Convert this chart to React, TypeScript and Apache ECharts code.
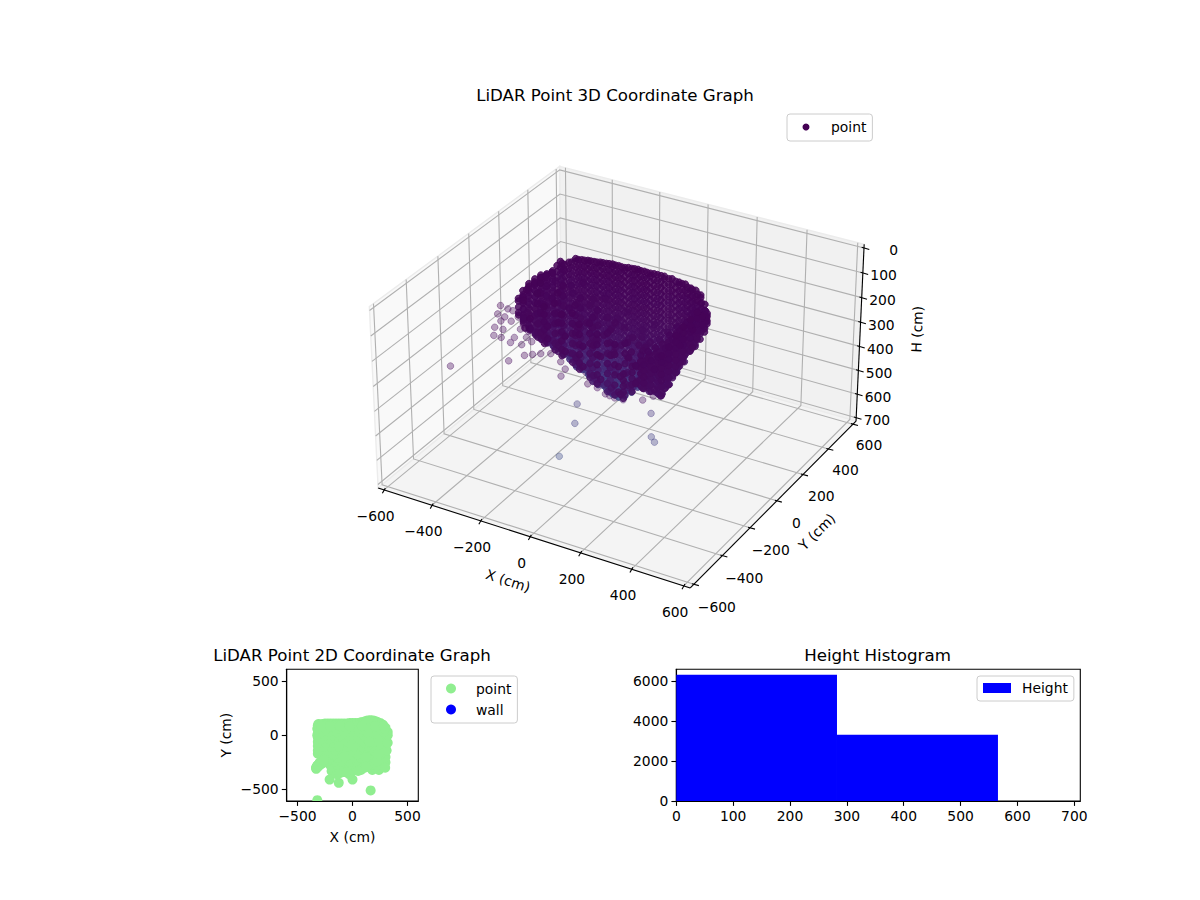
import { useEffect, useRef } from 'react';
import * as echarts from 'echarts';

const xTicks = [-600, -400, -200, 0, 200, 400, 600];
const yTicks = [-600, -400, -200, 0, 200, 400, 600];
const hTicks = [0, 100, 200, 300, 400, 500, 600, 700];
const planTicks = [-500, 0, 500];
const histXTicks = [0, 100, 200, 300, 400, 500, 600, 700];
const histYTicks = [0, 2000, 4000, 6000];

const histStart = [0, 282.6];
const histEnd = [282.6, 565.7];
const histCount = [6333, 3325];

// lone points, x / y / H in cm
const strayPoints = [
  [-320, -600, 143], [-208, -410, 185], [-125, -440, 125], [0, -410, 129], [165, -510, 117],
  [-319, -280, 61], [-325, -290, 91], [-319, -280, 122], [-330, -310, 168], [-313, -290, 181],
  [-288, -270, 204], [-255, -250, 213], [-220, -240, 196], [-302, -260, 79], [-296, -250, 131],
  [-265, -240, 159], [-239, -230, 165], [-309, -270, 108], [-273, -240, 113], [-332, -300, 141],
  [-308, -285, 150], [-278, -260, 186], [-238, -245, 182], [-285, -255, 84], [-259, -230, 142],
  [-143, -360, 166], [-116, -350, 160], [-82, -340, 155], [-19, -350, 193], [-30, -360, 219],
  [77, -320, 225], [110, -300, 279], [135, -280, 298], [122, -200, 350], [222, -240, 301],
  [297, -300, 233], [-123, -100, 491], [154, -60, 468], [-73, -200, 504], [-53, -340, 559],
  [206, -150, 501], [230, -170, 505], [84, -310, 257], [121, -290, 288], [51, -330, 195],
];

// scan columns: x, y, then the heights seen there
const backColumns: [number, number, number[]][] = [
  [-300, 100, [66, 77, 101, 125, 149, 173, 197, 221, 245, 269, 293, 317, 341, 365, 389, 413, 437]],
  [-275, 105, [57, 81, 105, 129, 153, 177, 201, 225, 249, 273, 297, 321, 345, 369, 393, 417, 441, 453]],
  [-250, 110, [38, 48, 72, 96, 120, 144, 168, 192, 216, 240, 264, 288, 312, 336, 360, 384, 408, 432, 456, 480]],
  [-225, 110, [36, 60, 84, 108, 132, 156, 180, 204, 228, 252, 276, 300, 324, 348, 372, 396, 420, 444, 468, 484]],
  [-200, 110, [32, 42, 66, 90, 114, 138, 162, 186, 210, 234, 258, 282, 306, 330, 354, 378, 402, 426, 450, 474, 498]],
  [-175, 110, [30, 54, 78, 102, 126, 150, 174, 198, 222, 246, 270, 294, 318, 342, 366, 390, 414, 438, 462, 486, 510]],
  [-150, 110, [26, 36, 60, 84, 108, 132, 156, 180, 204, 228, 252, 276, 300, 324, 348, 372, 396, 420, 444, 468, 492, 520]],
  [-125, 110, [24, 48, 72, 96, 120, 144, 168, 192, 216, 240, 264, 288, 312, 336, 360, 384, 408, 432, 456, 480, 504, 536]],
  [-100, 110, [20, 30, 54, 78, 102, 126, 150, 174, 198, 222, 246, 270, 294, 318, 342, 366, 390, 414, 438, 462, 486, 510, 534, 550]],
  [-75, 110, [20, 44, 68, 92, 116, 140, 164, 188, 212, 236, 260, 284, 308, 332, 356, 380, 404, 428, 452, 476, 500, 524, 556]],
  [-50, 110, [21, 31, 55, 79, 103, 127, 151, 175, 199, 223, 247, 271, 295, 319, 343, 367, 391, 415, 439, 463, 487, 511, 544]],
  [-25, 115, [20, 44, 68, 92, 116, 140, 164, 188, 212, 236, 260, 284, 308, 332, 356, 380, 404, 428, 452, 476, 500, 523]],
  [0, 115, [17, 27, 51, 75, 99, 123, 147, 171, 195, 219, 243, 267, 291, 315, 339, 363, 387, 411, 435, 459, 483, 495]],
  [25, 115, [18, 42, 66, 90, 114, 138, 162, 186, 210, 234, 258, 282, 306, 330, 354, 378, 402, 426, 450, 474, 486]],
  [50, 115, [19, 29, 53, 77, 101, 125, 149, 173, 197, 221, 245, 269, 293, 317, 341, 365, 389, 413, 437, 461, 475]],
  [75, 120, [20, 44, 68, 92, 116, 140, 164, 188, 212, 236, 260, 284, 308, 332, 356, 380, 404, 428, 445]],
  [100, 125, [22, 32, 56, 80, 104, 128, 152, 176, 200, 224, 248, 272, 296, 320, 344, 368, 392, 420]],
  [125, 135, [30, 54, 78, 102, 126, 150, 174, 198, 222, 246, 270, 294, 318, 342, 366, 390, 402]],
  [150, 140, [39, 49, 73, 97, 121, 145, 169, 193, 217, 241, 265, 289, 313, 337, 361, 383]],
  [175, 140, [40, 64, 88, 112, 136, 160, 184, 208, 232, 256, 280, 304, 328, 352]],
  [200, 135, [47, 57, 81, 105, 129, 153, 177, 201, 225, 249, 273, 297]],
  [225, 125, [44, 68, 92, 116, 140, 164, 188, 212, 236, 260, 268]],
  [250, 115, [51, 61, 85, 109, 133, 157, 181, 205, 227]],
  [275, 100, [74, 98, 122, 146, 170, 184]],
  [300, 70, [88, 98, 120, 130]],
  [320, 30, [80, 90]],
];

const innerBackColumns: [number, number, number[]][] = [
  [-280, 85, [58, 82, 105, 130, 154, 178, 201, 226, 250, 273, 298, 322, 345, 370, 394, 418]],
  [-255, 90, [44, 67, 92, 116, 139, 164, 188, 211, 236, 260, 283, 308, 332, 356, 379, 404, 428, 440]],
  [-230, 95, [30, 54, 79, 102, 127, 151, 174, 199, 223, 246, 271, 295, 318, 343, 367, 390, 415, 439, 462]],
  [-205, 95, [26, 50, 73, 98, 122, 145, 170, 194, 217, 242, 266, 289, 314, 338, 361, 386, 410, 433, 458, 472]],
  [-180, 95, [22, 47, 70, 95, 119, 142, 167, 191, 214, 239, 263, 286, 311, 335, 358, 383, 407, 430, 455, 479, 490]],
  [-155, 95, [20, 43, 68, 92, 115, 140, 164, 187, 212, 236, 259, 284, 308, 331, 356, 380, 403, 428, 452, 475, 500]],
  [-130, 95, [16, 40, 64, 88, 111, 136, 160, 183, 208, 232, 255, 280, 304, 327, 352, 376, 399, 424, 448, 471, 496, 515]],
  [-105, 95, [13, 38, 61, 85, 109, 132, 157, 181, 204, 229, 253, 276, 301, 325, 348, 373, 397, 420, 445, 469, 492, 517, 533]],
  [-80, 95, [12, 36, 59, 84, 108, 131, 156, 180, 203, 228, 252, 275, 300, 324, 347, 372, 396, 419, 444, 468, 491, 516, 540]],
  [-55, 95, [12, 35, 60, 83, 107, 132, 155, 179, 204, 227, 251, 276, 299, 323, 348, 371, 395, 420, 443, 467, 492, 515, 530]],
  [-30, 100, [11, 35, 58, 83, 106, 130, 155, 178, 202, 227, 250, 274, 299, 322, 346, 371, 394, 418, 443, 466, 490, 508]],
  [-5, 100, [9, 33, 57, 80, 105, 129, 152, 177, 201, 224, 249, 273, 296, 321, 345, 368, 393, 417, 440, 465, 484]],
  [20, 100, [10, 34, 57, 82, 106, 129, 154, 178, 201, 226, 250, 273, 298, 322, 345, 370, 394, 417, 442, 466, 476]],
  [45, 100, [10, 33, 58, 81, 105, 130, 153, 177, 202, 225, 249, 274, 297, 321, 346, 369, 393, 418, 441, 458]],
  [70, 105, [11, 35, 58, 83, 107, 130, 155, 179, 202, 227, 251, 274, 299, 323, 346, 371, 395, 418, 432]],
  [95, 110, [14, 38, 61, 86, 110, 133, 158, 182, 205, 230, 254, 277, 302, 326, 349, 374, 398, 412]],
  [120, 120, [24, 47, 72, 96, 119, 144, 168, 191, 216, 240, 263, 288, 312, 335, 360, 384, 396]],
  [145, 125, [30, 54, 77, 102, 126, 149, 174, 198, 221, 246, 270, 293, 318, 342, 365, 378]],
  [170, 125, [32, 56, 79, 104, 128, 151, 176, 200, 223, 248, 272, 295, 320, 340]],
  [195, 120, [38, 62, 85, 110, 134, 157, 182, 206, 229, 254, 278, 290]],
  [220, 110, [36, 60, 83, 108, 132, 155, 180, 204, 227, 252, 262]],
  [245, 100, [42, 66, 89, 114, 138, 161, 186, 210, 222]],
  [270, 85, [62, 86, 109, 134, 158, 176]],
];

const leftColumns: [number, number, number[]][] = [
  [-310, 105, [63, 87, 111, 135, 159, 183, 207, 231, 255, 279, 303, 327, 351, 375, 399, 420]],
  [-315, 90, [74, 98, 122, 146, 170, 194, 218, 242, 266, 290, 314, 338, 362, 386, 410]],
  [-315, 60, [81, 91, 115, 139, 163, 187, 211, 235, 259, 283, 307, 331, 355, 379, 390]],
  [-315, 20, [75, 99, 123, 147, 171, 195, 219, 243, 267, 291, 315, 339, 355]],
  [-315, -20, [61, 71, 95, 119, 143, 167, 191, 215, 239, 263, 287, 311, 320]],
  [-315, -60, [58, 82, 106, 130, 154, 178, 202, 226, 250, 274, 284]],
  [-315, -100, [58, 68, 92, 116, 140, 164, 188, 212, 236, 244]],
  [-315, -140, [67, 91, 115, 139, 163, 187, 195]],
  [-315, -170, [84, 94, 118, 140, 150]],
  [-305, 40, [78, 88, 112, 135, 160, 184, 207, 232, 256, 279, 304, 328, 351, 372]],
  [-305, 0, [68, 78, 101, 126, 150, 173, 198, 222, 245, 270, 294, 317, 335]],
  [-305, -40, [60, 70, 93, 118, 142, 165, 190, 214, 237, 262, 286, 300]],
  [-305, -80, [58, 68, 91, 116, 140, 163, 188, 212, 235, 260, 265]],
  [-305, -120, [62, 72, 95, 120, 144, 167, 192, 215, 222]],
  [-305, -155, [74, 84, 107, 132, 156, 172]],
];

const rightColumns: [number, number, number[]][] = [
  [300, -250, [100, 124, 148, 172, 196, 220, 244, 256]],
  [300, -200, [90, 114, 138, 162, 186, 210, 238]],
  [300, -150, [70, 94, 118, 142, 166, 190, 216]],
  [300, -100, [60, 84, 108, 132, 156, 180, 196]],
  [300, -50, [55, 79, 103, 127, 151, 180]],
  [300, 0, [50, 74, 98, 122, 156]],
  [300, 50, [85, 110, 132]],
  [260, -300, [120, 144, 168, 192, 214]],
  [260, -250, [130, 154, 178, 202, 226, 250]],
  [260, -200, [140, 164, 188, 212, 236, 260, 284]],
  [260, -150, [130, 154, 178, 202, 226, 250, 274, 288]],
  [260, -100, [120, 144, 168, 192, 216, 240, 264, 272]],
  [260, -50, [110, 134, 158, 182, 206, 230, 250]],
  [260, 0, [100, 124, 148, 172, 196, 222]],
  [260, 50, [90, 114, 138, 162, 186, 212]],
  [220, -250, [120, 144, 168, 192, 216, 238]],
  [220, -200, [130, 154, 178, 202, 226, 250, 274]],
  [220, -150, [140, 164, 188, 212, 236, 260, 284, 314]],
  [220, -100, [150, 174, 198, 222, 246, 270, 294, 318, 348]],
  [220, -50, [140, 164, 188, 212, 236, 260, 284, 308, 336]],
  [220, 0, [130, 154, 178, 202, 226, 250, 274, 298, 310]],
  [180, -300, [180, 204, 228, 252, 276]],
  [180, -240, [180, 204, 228, 252, 280]],
  [180, -180, [190, 214, 238, 262, 286]],
  [180, -120, [200, 224, 248, 272, 296, 320, 340]],
  [180, -60, [210, 234, 258, 282, 306, 330, 354, 378]],
];

const floorColumns: [number, number, number[]][] = [
  [-190, -330, [90]], [180, -320, [180, 250]], [240, -320, [120, 190]],
  [-200, -280, [80, 120]], [-130, -280, [90, 140]], [-60, -280, [110, 170]], [10, -280, [130, 210]],
  [80, -280, [150, 240]], [150, -280, [170, 270]], [220, -280, [150, 210]], [290, -280, [140, 220]],
  [-165, -245, [40, 70, 100, 130, 160, 185]], [-95, -245, [50, 85, 120, 155, 190, 214]],
  [-25, -245, [70, 110, 150, 190, 225, 248]], [45, -245, [90, 130, 170, 210, 250, 285]],
  [115, -245, [110, 150, 190, 230, 270, 310]],
  [-270, -210, [60, 130]], [-200, -210, [90, 170]], [-130, -210, [110, 200]], [-60, -210, [130, 230]],
  [10, -210, [160, 280]], [80, -210, [180, 310]], [150, -210, [170, 280]], [220, -210, [160, 260]], [290, -210, [150, 250]],
  [-235, -175, [40, 80, 120, 160, 195, 214]], [-165, -175, [60, 100, 140, 180, 220, 245]],
  [-95, -175, [80, 120, 160, 200, 240, 275]], [-25, -175, [100, 140, 180, 220, 260, 300, 316]],
  [45, -175, [120, 160, 200, 240, 280, 320, 352]], [115, -175, [140, 180, 220, 260, 300, 345]],
  [185, -175, [150, 190, 230, 270, 298]], [255, -175, [150, 190, 230, 270, 308]],
  [-300, -140, [60, 150]], [-230, -140, [100, 220]], [-160, -140, [120, 260]], [-90, -140, [150, 290]],
  [-20, -140, [180, 340]], [50, -140, [210, 370]], [120, -140, [190, 320]], [190, -140, [180, 300]],
  [260, -140, [160, 280]], [310, -140, [110, 180]],
  [-265, -105, [40, 80, 120, 160, 200, 240, 265]], [-195, -105, [60, 100, 140, 180, 220, 260, 295]],
  [-125, -105, [90, 130, 170, 210, 250, 290, 328]], [-55, -105, [120, 160, 200, 240, 280, 320, 376]],
  [15, -105, [150, 200, 250, 300, 350, 398]], [85, -105, [180, 240, 300, 360]], [155, -105, [180, 240, 300]],
  [-310, -70, [70, 200]], [-240, -70, [110, 280]], [-170, -70, [130, 310]], [-100, -70, [170, 350]],
  [-30, -70, [200, 400]], [40, -70, [220, 420]], [110, -70, [200, 340]], [180, -70, [210, 340]],
  [250, -70, [170, 260]], [320, -70, [80, 150]],
  [-285, -35, [50, 90, 130, 170, 210, 250, 290, 318]], [-215, -35, [70, 110, 150, 190, 230, 270, 310, 348]],
  [-145, -35, [100, 140, 180, 220, 260, 300, 340, 380]], [-75, -35, [130, 190, 250, 310, 370, 430]],
  [-5, -35, [160, 260, 360, 440]], [65, -35, [200, 300, 400]], [135, -35, [200, 300, 370]], [205, -35, [180, 260, 330]],
  [-320, 0, [80, 240]], [-250, 0, [120, 320]], [-180, 0, [150, 370]], [-110, 0, [180, 430]],
  [-40, 0, [210, 450]], [30, 0, [230, 430]], [100, 0, [240, 390]], [170, 0, [230, 380]],
  [240, 0, [170, 250]], [320, 0, [60, 95]],
  [-285, 30, [100, 250]], [-215, 30, [130, 320]], [-145, 30, [160, 390]], [-75, 30, [190, 460]],
  [-5, 30, [210, 470]], [65, 30, [230, 430]], [135, 30, [220, 400]], [205, 30, [190, 330]], [285, 30, [80, 150]],
  [-320, 60, [90, 300]], [-240, 60, [120, 400]], [-150, 60, [150, 470]], [-50, 60, [200, 500]],
  [50, 60, [220, 430]], [150, 60, [200, 390]], [250, 60, [120, 220]], [295, 60, [90, 125]],
  [-285, 85, [80, 200]], [-205, 85, [110, 340]], [-115, 85, [150, 430]], [-25, 85, [180, 470]],
  [85, 85, [200, 410]], [205, 85, [170, 290]], [285, 85, [90, 130]],
];

const heightColors = ['#440154', '#450559', '#46085c', '#470e61', '#481d6f', '#43347e', '#3c4d8a'];
const HEIGHT_MAX = 566;

const FONT = '"DejaVu Sans"';
const TICK_SIZE = 13.89;
const TITLE_SIZE = 16.67;

// matplotlib style view at elev 30, azim -60 with the H axis turned upside down
const BOX_XY = 625;
const H_LOW = -14.6;
const H_HIGH = 714.6;
const project = (x: number, y: number, h: number) => {
  const qx = (x / BOX_XY) * 0.595;
  const qy = (y / BOX_XY) * 0.595;
  const qz = ((350 - h) / 364.6) * 0.348;
  const u = 0.866 * qx + 0.5 * qy;
  const v = -0.25 * qx + 0.433 * qy + 0.866 * qz;
  const w = 0.433 * qx - 0.75 * qy + 0.5 * qz;
  const f = 10 / (10 - w);
  return [621.5 + 299 * u * f, 366 - 297 * v * f];
};

type P3 = [number, number, number];
const L = -BOX_XY;
const R = BOX_XY;

const panes: { fill: string; corners: P3[] }[] = [
  { fill: '#f9f9f9', corners: [[L, L, H_HIGH], [L, R, H_HIGH], [L, R, H_LOW], [L, L, H_LOW]] },
  { fill: '#f1f1f1', corners: [[L, R, H_HIGH], [R, R, H_HIGH], [R, R, H_LOW], [L, R, H_LOW]] },
  { fill: '#f4f4f4', corners: [[L, L, H_HIGH], [R, L, H_HIGH], [R, R, H_HIGH], [L, R, H_HIGH]] },
];

const gridLines: P3[][] = [
  ...xTicks.map((t): P3[] => [[t, L, H_HIGH], [t, R, H_HIGH], [t, R, H_LOW]]),
  ...yTicks.map((t): P3[] => [[R, t, H_HIGH], [L, t, H_HIGH], [L, t, H_LOW]]),
  ...hTicks.map((t): P3[] => [[L, L, t], [L, R, t], [R, R, t]]),
];

const axisLines: P3[][] = [
  [[L, L, H_HIGH], [R, L, H_HIGH]],
  [[R, L, H_HIGH], [R, R, H_HIGH]],
  [[R, R, H_HIGH], [R, R, H_LOW]],
];

type TickMark = { at: P3; from: number[]; to: number[] };
const tickMarks: TickMark[] = [
  ...xTicks.map((t): TickMark => ({ at: [t, L, H_HIGH], from: [1.3, -1.8], to: [-1.7, 3.4] })),
  ...yTicks.map((t): TickMark => ({ at: [R, t, H_HIGH], from: [-2, -0.6], to: [5, 1.3] })),
  ...hTicks.map((t): TickMark => ({ at: [R, R, t], from: [-2.3, -0.7], to: [5.3, 1.6] })),
];

const fmt = (v: number) => String(v).replace('-', '\u2212');

type AxisText = { text: string; at: P3; dx: number; dy: number; align: string; rotate: number };
const axisTexts: AxisText[] = [
  ...xTicks.map((t): AxisText => ({ text: fmt(t), at: [t, L, H_HIGH], dx: -8.5, dy: 26, align: 'center', rotate: 0 })),
  ...yTicks.map((t): AxisText => ({
    text: fmt(t), at: [R, t, H_HIGH], dx: 19.5 - (t / 600) * 3.5, dy: 22 - (t / 600), align: 'center', rotate: 0,
  })),
  ...hTicks.map((t): AxisText => ({ text: fmt(t), at: [R, R, t], dx: 34, dy: 2.5, align: 'right', rotate: 0 })),
  { text: 'X (cm)', at: [0, L, H_HIGH], dx: -22, dy: 44, align: 'center', rotate: -17.8 },
  { text: 'Y (cm)', at: [R, 0, H_HIGH], dx: 40, dy: 31, align: 'center', rotate: 45 },
  { text: 'H (cm)', at: [R, R, 350], dx: 57, dy: -5, align: 'center', rotate: 88 },
];

const allColumns = [...backColumns, ...innerBackColumns, ...leftColumns, ...rightColumns, ...floorColumns];
const bodyPoints = allColumns
  .flatMap(([x, y, hs]) => hs.map((h) => [x, y, h]))
  .sort((a, b) => b[2] - a[2]);
const planPoints = [...allColumns.map(([x, y]) => [x, y]), ...strayPoints.map(([x, y]) => [x, y])];

const flat2 = (pts: P3[], api: any) => pts.map(([x, y, h]) => api.coord(project(x, y, h)));

const heightColor = (h: number, alpha: number) =>
  echarts.color.modifyAlpha(echarts.color.lerp(Math.min(h / HEIGHT_MAX, 1), heightColors) as string, alpha);

const pointRenderer = (alpha: number) => (_: any, api: any) => {
  const h = api.value(2);
  const [cx, cy] = api.coord(project(api.value(0), api.value(1), h));
  const c = heightColor(h, alpha);
  return { type: 'circle', shape: { cx, cy, r: 3.3 }, style: { fill: c, stroke: c, lineWidth: 1 } };
};

const pixelSeries = { coordinateSystem: 'cartesian2d', xAxisIndex: 0, yAxisIndex: 0, silent: true };

const tickAxis = (min: number, max: number, ticks: number[], gridIndex: number, extra: object = {}) => ({
  type: 'value',
  gridIndex,
  min,
  max,
  splitLine: { show: false },
  axisLine: { show: true, onZero: false, lineStyle: { color: '#000', width: 1.1 } },
  axisTick: { show: true, length: 4.9, customValues: ticks, lineStyle: { color: '#000', width: 1.1 } },
  axisLabel: {
    customValues: ticks,
    color: '#000',
    fontFamily: FONT,
    fontSize: TICK_SIZE,
    margin: 8,
    formatter: (v: number) => fmt(v),
  },
  nameTextStyle: { color: '#000', fontFamily: FONT, fontSize: TICK_SIZE },
  ...extra,
});

const legendBase = (gap: number) => ({
  selectedMode: false,
  backgroundColor: '#fff',
  borderColor: '#cccccc',
  borderWidth: 1,
  borderRadius: 3,
  formatter: (name: string) => `{t|${name}}`,
  textStyle: {
    color: '#000',
    fontFamily: FONT,
    fontSize: TICK_SIZE,
    rich: { t: { color: '#000', fontFamily: FONT, fontSize: TICK_SIZE, padding: [0, 0, 0, gap] } },
  },
});

const titleOf = (text: string, left: number, top: number) => ({
  text,
  left,
  top,
  textAlign: 'center',
  textStyle: { color: '#000', fontFamily: FONT, fontSize: TITLE_SIZE, fontWeight: 'normal' },
});

export default function App() {
  const chartRef = useRef<HTMLDivElement>(null);

  useEffect(() => {
    if (!chartRef.current) return;
    const myChart = echarts.init(chartRef.current, null, { renderer: 'svg' });

    const option = {
      animation: false,
      backgroundColor: '#fff',
      title: [
        titleOf('LiDAR Point 3D Coordinate Graph', 610, 82),
        titleOf('LiDAR Point 2D Coordinate Graph', 347, 642),
        titleOf('Height Histogram', 872.5, 642),
      ],
      legend: [
        {
          ...legendBase(16.5),
          left: 787,
          top: 114,
          padding: [6, 6, 7, 15.5],
          itemWidth: 7,
          itemHeight: 7,
          data: [{ name: 'point', icon: 'circle', itemStyle: { color: '#440154', opacity: 1 } }],
        },
        {
          ...legendBase(15),
          left: 431,
          top: 676,
          orient: 'vertical',
          align: 'left',
          padding: [5.5, 6, 6.5, 15],
          itemWidth: 10,
          itemHeight: 10,
          itemGap: 7,
          data: [
            { name: 'point', icon: 'circle', itemStyle: { color: '#90ee90', opacity: 1 } },
            { name: 'wall', icon: 'circle', itemStyle: { color: '#0000ff', opacity: 1 } },
          ],
        },
        {
          ...legendBase(6),
          left: 977,
          top: 676,
          padding: [5, 6, 6, 6],
          itemWidth: 28,
          itemHeight: 10,
          data: [{ name: 'Height', icon: 'rect', itemStyle: { color: '#0000ff', opacity: 1 } }],
        },
      ],
      grid: [
        { left: 0, top: 0, width: 1200, height: 900, show: false },
        { left: 286.7, top: 669.3, width: 131.6, height: 131.7, show: true, borderColor: '#000', borderWidth: 1.1 },
        { left: 676.3, top: 669.3, width: 404, height: 131.7, show: true, borderColor: '#000', borderWidth: 1.1 },
      ],
      xAxis: [
        { type: 'value', gridIndex: 0, min: 0, max: 1200, show: false },
        tickAxis(-598, 598, planTicks, 1, { name: 'X (cm)', nameLocation: 'middle', nameGap: 29 }),
        tickAxis(0, 710.5, histXTicks, 2),
      ],
      yAxis: [
        { type: 'value', gridIndex: 0, min: 0, max: 900, inverse: true, show: false },
        tickAxis(-608, 611, planTicks, 1, { name: 'Y (cm)', nameLocation: 'middle', nameGap: 54 }),
        tickAxis(0, 6601, histYTicks, 2),
      ],
      series: [
        {
          ...pixelSeries,
          type: 'custom',
          name: 'panes',
          z: 1,
          data: panes.map((_, i) => [i]),
          renderItem: (params: any, api: any) => {
            const pane = panes[params.dataIndex];
            return {
              type: 'polygon',
              shape: { points: flat2(pane.corners, api) },
              style: { fill: pane.fill, stroke: '#ececec', lineWidth: 1.4 },
            };
          },
        },
        {
          ...pixelSeries,
          type: 'custom',
          name: 'grid lines',
          z: 2,
          data: gridLines.map((_, i) => [i]),
          renderItem: (params: any, api: any) => ({
            type: 'polyline',
            shape: { points: flat2(gridLines[params.dataIndex], api) },
            style: { fill: 'none', stroke: '#b0b0b0', lineWidth: 1.1 },
          }),
        },
        {
          ...pixelSeries,
          type: 'custom',
          name: 'axis lines',
          z: 3,
          data: axisLines.map((_, i) => [i]),
          renderItem: (params: any, api: any) => ({
            type: 'polyline',
            shape: { points: flat2(axisLines[params.dataIndex], api) },
            style: { fill: 'none', stroke: '#000', lineWidth: 1.1 },
          }),
        },
        {
          ...pixelSeries,
          type: 'custom',
          name: 'axis ticks',
          z: 3,
          data: tickMarks.map((_, i) => [i]),
          renderItem: (params: any, api: any) => {
            const m = tickMarks[params.dataIndex];
            const [px, py] = api.coord(project(...m.at));
            return {
              type: 'line',
              shape: { x1: px + m.from[0], y1: py + m.from[1], x2: px + m.to[0], y2: py + m.to[1] },
              style: { stroke: '#000', lineWidth: 1.1 },
            };
          },
        },
        {
          ...pixelSeries,
          type: 'custom',
          name: 'axis text',
          z: 3,
          data: axisTexts.map((_, i) => [i]),
          renderItem: (params: any, api: any) => {
            const t = axisTexts[params.dataIndex];
            const [px, py] = api.coord(project(...t.at));
            return {
              type: 'text',
              x: px + t.dx,
              y: py + t.dy,
              rotation: (t.rotate * Math.PI) / 180,
              style: {
                text: t.text,
                fill: '#000',
                fontFamily: FONT,
                fontSize: TICK_SIZE,
                align: t.align,
                verticalAlign: 'middle',
              },
            };
          },
        },
        {
          ...pixelSeries,
          type: 'custom',
          name: 'point',
          z: 4,
          data: strayPoints,
          encode: { x: 0, y: 1 },
          renderItem: pointRenderer(0.36),
        },
        {
          ...pixelSeries,
          type: 'custom',
          name: 'point',
          z: 5,
          data: bodyPoints,
          encode: { x: 0, y: 1 },
          renderItem: pointRenderer(0.85),
        },
        {
          type: 'custom',
          name: 'point',
          coordinateSystem: 'cartesian2d',
          xAxisIndex: 1,
          yAxisIndex: 1,
          clip: true,
          silent: true,
          data: planPoints,
          encode: { x: 0, y: 1 },
          renderItem: (_: any, api: any) => {
            const [cx, cy] = api.coord([api.value(0), api.value(1)]);
            return { type: 'circle', shape: { cx, cy, r: 5 }, style: { fill: '#90ee90' } };
          },
        },
        {
          type: 'scatter',
          name: 'wall',
          xAxisIndex: 1,
          yAxisIndex: 1,
          itemStyle: { color: '#0000ff' },
          data: [],
        },
        {
          type: 'custom',
          name: 'Height',
          coordinateSystem: 'cartesian2d',
          xAxisIndex: 2,
          yAxisIndex: 2,
          silent: true,
          data: histCount.map((c, i) => [histStart[i], c, histEnd[i]]),
          encode: { x: 0, y: 1 },
          renderItem: (_: any, api: any) => {
            const [x0, y0] = api.coord([api.value(0), api.value(1)]);
            const [x1, y1] = api.coord([api.value(2), 0]);
            return {
              type: 'rect',
              shape: { x: x0, y: y0, width: x1 - x0, height: y1 - y0 },
              style: { fill: '#0000ff' },
            };
          },
        },
      ],
    };

    myChart.setOption(option as any);

    return () => {
      myChart.dispose();
    };
  }, []);

  return <div ref={chartRef} style={{ position: 'fixed', left: 0, top: 0, width: 1200, height: 900 }} />;
}
